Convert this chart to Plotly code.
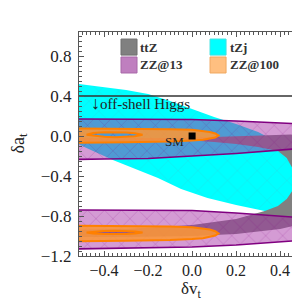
import plotly.graph_objects as go

# ---------------- data ----------------
# tZj allowed region (cyan): upper edge left->right, lower edge right->left
TZJ_UP_X = [-0.55, -0.4, -0.3, -0.2, -0.1, 0.0, 0.1, 0.2, 0.3, 0.37, 0.45, 0.55]
TZJ_UP_Y = [0.53, 0.49, 0.46, 0.42, 0.35, 0.27, 0.19, 0.12, 0.04, -0.04, -0.12, -0.22]
TZJ_LO_X = [0.55, 0.5, 0.4, 0.33, 0.2, 0.07, -0.05, -0.155, -0.25, -0.36, -0.45, -0.55]
TZJ_LO_Y = [-0.81, -0.80, -0.775, -0.75, -0.69, -0.62, -0.53, -0.42, -0.34, -0.24, -0.15, -0.05]

# ttZ allowed ring (gray): outer edge then inner edge
TTZ_OUT_X = [-0.55, -0.3, -0.1, 0.1, 0.3, 0.45, 0.53, 0.57, 0.58, 0.56, 0.5, 0.4, 0.2, 0.0, -0.3, -0.55]
TTZ_OUT_Y = [-0.02, -0.02, -0.02, -0.01, 0.0, 0.015, -0.05, -0.25, -0.45, -0.7, -0.88, -0.93, -0.98, -1.0, -1.01, -1.01]
TTZ_IN_X = [-0.55, -0.3, 0.0, 0.2, 0.33, 0.39, 0.43, 0.455, 0.465, 0.455, 0.43, 0.39, 0.3, 0.2, 0.1, 0.0, -0.3, -0.55]
TTZ_IN_Y = [-0.94, -0.93, -0.89, -0.83, -0.75, -0.70, -0.63, -0.55, -0.44, -0.32, -0.22, -0.15, -0.11, -0.08, -0.06, -0.045, -0.05, -0.055]

# ZZ@13 bands (purple)
ZZ13_X = [-0.55, -0.4, -0.2, 0.0, 0.2, 0.4, 0.55]
ZZ13_UP_TOP = [0.17, 0.17, 0.17, 0.165, 0.15, 0.13, 0.115]
ZZ13_UP_BOT = [-0.235, -0.23, -0.225, -0.2, -0.175, -0.14, -0.115]
ZZ13_LO_TOP = [-0.74, -0.74, -0.74, -0.745, -0.77, -0.80, -0.825]
ZZ13_LO_BOT = [-1.13, -1.125, -1.12, -1.11, -1.09, -1.06, -1.035]

# ZZ@100 (orange): outer contour and inner hole, upper and lower islands
ZZ100_OUT_X = [-0.55, -0.3, -0.1, 0.0, 0.05, 0.08, 0.105, 0.12, 0.105, 0.08, 0.05, 0.0, -0.1, -0.3, -0.55]
ZZ100_UP_OUT_Y = [0.075, 0.073, 0.068, 0.062, 0.052, 0.04, 0.025, 0.005, -0.015, -0.027, -0.037, -0.045, -0.055, -0.062, -0.067]
ZZ100_LO_OUT_Y = [-0.898, -0.90, -0.906, -0.913, -0.923, -0.935, -0.952, -0.975, -0.996, -1.01, -1.022, -1.03, -1.04, -1.047, -1.052]
ZZ100_HOLE_X = [-0.48, -0.45, -0.4, -0.35, -0.3, -0.26, -0.225, -0.26, -0.3, -0.35, -0.4, -0.45, -0.48]
ZZ100_UP_HOLE_Y = [0.013, 0.003, -0.008, -0.012, -0.01, -0.003, 0.013, 0.028, 0.036, 0.04, 0.038, 0.03, 0.013]
ZZ100_LO_HOLE_Y = [-0.965, -0.975, -0.981, -0.983, -0.981, -0.975, -0.965, -0.955, -0.949, -0.947, -0.949, -0.955, -0.965]

HIGGS_X = [-0.6, 0.6]
HIGGS_Y = [0.4, 0.4]
SM_X = [0.0]
SM_Y = [0.0]

X_TICKS = [-0.4, -0.2, 0.0, 0.2, 0.4]
Y_TICKS = [-1.2, -0.8, -0.4, 0.0, 0.4, 0.8]

LEGEND_NAMES = ["ttZ", "tZj", "ZZ@13", "ZZ@100"]
LEGEND_FILL = ["#808080", "#00ffff", "#bf7fbf", "#ffbf80"]
LEGEND_EDGE = ["#6e6e6e", "#40e0e0", "#a868a8", "#f0a860"]

SERIF = "Liberation Serif, Times New Roman, serif"

fig = go.Figure()

# cyan tZj
fig.add_trace(go.Scatter(
    x=TZJ_UP_X + TZJ_LO_X, y=TZJ_UP_Y + TZJ_LO_Y, fill="toself", mode="lines",
    line=dict(width=0, color="#00ffff"), fillcolor="#00ffff",
    fillpattern=dict(shape="x", fgcolor="#33c8d8", fgopacity=0.6, size=14, solidity=0.06, fillmode="overlay"),
    hoverinfo="skip", showlegend=False))

# gray ttZ ring
fig.add_trace(go.Scatter(
    x=TTZ_OUT_X + TTZ_IN_X, y=TTZ_OUT_Y + TTZ_IN_Y, fill="toself", mode="lines",
    line=dict(width=0, color="#808080"), fillcolor="#808080",
    hoverinfo="skip", showlegend=False))

# purple ZZ@13 bands
for top, bot in [(ZZ13_UP_TOP, ZZ13_UP_BOT), (ZZ13_LO_TOP, ZZ13_LO_BOT)]:
    fig.add_trace(go.Scatter(
        x=ZZ13_X + ZZ13_X[::-1], y=top + bot[::-1], fill="toself", mode="lines",
        line=dict(width=1.6, color="#800080"), fillcolor="rgba(165,45,165,0.48)",
        fillpattern=dict(shape="x", fgcolor="#800080", fgopacity=0.45, size=12, solidity=0.06, fillmode="overlay"),
        hoverinfo="skip", showlegend=False))

# orange ZZ@100 islands with holes
for out_y, hole_y in [(ZZ100_UP_OUT_Y, ZZ100_UP_HOLE_Y), (ZZ100_LO_OUT_Y, ZZ100_LO_HOLE_Y)]:
    fig.add_trace(go.Scatter(
        x=ZZ100_OUT_X + [ZZ100_OUT_X[0], None] + ZZ100_HOLE_X,
        y=out_y + [out_y[0], None] + hole_y,
        fill="toself", mode="lines",
        line=dict(width=2, color="#ff8000"), fillcolor="rgba(250,150,55,0.88)",
        hoverinfo="skip", showlegend=False))

# off-shell Higgs line
fig.add_trace(go.Scatter(x=HIGGS_X, y=HIGGS_Y, mode="lines",
                         line=dict(color="#333333", width=1.5), hoverinfo="skip", showlegend=False))

# SM point
fig.add_trace(go.Scatter(x=SM_X, y=SM_Y, mode="markers",
                         marker=dict(symbol="square", size=7, color="black"),
                         hoverinfo="skip", showlegend=False))

fig.add_annotation(x=SM_X[0] - 0.082, y=SM_Y[0] - 0.055, text="SM", showarrow=False,
                   font=dict(family=SERIF, size=13, color="#222"), xanchor="center", yanchor="middle")
fig.add_annotation(x=-0.47, y=0.335, text="<span style='font-size:18px'>↓</span>off-shell Higgs", showarrow=False,
                   font=dict(family=SERIF, size=15, color="#222"), xanchor="left", yanchor="middle")

# legend (manual, 2x2 inside the frame)
lx0 = [0.1875, 0.585, 0.1875, 0.585]
ly0 = [0.897, 0.897, 0.817, 0.817]
for i, name in enumerate(LEGEND_NAMES):
    fig.add_shape(type="rect", xref="paper", yref="paper",
                  x0=lx0[i], x1=lx0[i] + 0.0715, y0=ly0[i], y1=ly0[i] + 0.0715,
                  fillcolor=LEGEND_FILL[i], line=dict(color=LEGEND_EDGE[i], width=1))
    fig.add_annotation(xref="paper", yref="paper", x=lx0[i] + 0.078, y=ly0[i] + 0.036,
                       text="<b>" + name + "</b>", showarrow=False, xanchor="left", yanchor="middle",
                       font=dict(family=SERIF, size=13, color="#333"))

# axis titles as annotations so they sit where the reference has them
fig.add_annotation(xref="paper", yref="paper", x=0.5, y=-0.153, text="δv<sub>t</sub>", showarrow=False,
                   xanchor="center", yanchor="middle", font=dict(family=SERIF, size=17, color="#222"))
fig.add_annotation(xref="paper", yref="paper", x=-0.27, y=0.5, text="δa<sub>t</sub>", showarrow=False,
                   textangle=-90, xanchor="center", yanchor="middle", font=dict(family=SERIF, size=18, color="#222"))

axis_common = dict(showline=True, linecolor="#555", linewidth=1, mirror="ticks", ticks="inside",
                   tickcolor="#555", ticklen=5, showgrid=False, zeroline=False, tickformat=".1f")

fig.update_xaxes(range=[-0.514, 0.504], tickvals=X_TICKS,
                 minor=dict(dtick=0.02, tick0=0, ticks="inside", ticklen=3, tickcolor="#555"),
                 tickfont=dict(family=SERIF, size=16, color="#222"), ticklabelstandoff=0,
                 **axis_common)
fig.update_yaxes(range=[-1.2, 1.04], tickvals=Y_TICKS,
                 minor=dict(dtick=0.05, tick0=0, ticks="inside", ticklen=3, tickcolor="#555"),
                 tickfont=dict(family=SERIF, size=17, color="#222"), ticklabelstandoff=3,
                 **axis_common)

fig.update_layout(width=300, height=300, margin=dict(l=71, r=5, t=24, b=52),
                  paper_bgcolor="white", plot_bgcolor="white", showlegend=False)

fig.write_html("out.html")
